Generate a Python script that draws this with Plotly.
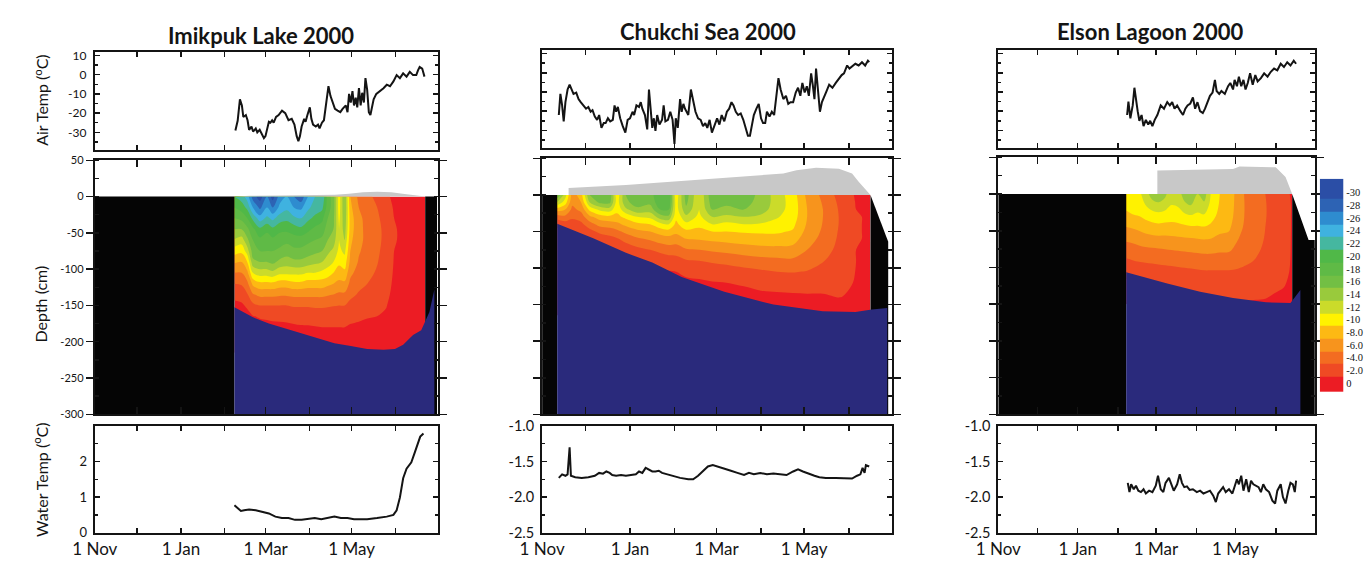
import numpy as np
import plotly.graph_objects as go

W, H = 1364, 561
FONT = "Lato"
SERIF = "Liberation Serif"
INK = "#141414"

# ============================ DATA ============================
# x values are days since 1 Nov 1999
MONTH_DAYS = [0, 30, 61, 92, 121, 152, 182, 213, 243]
LABEL_DAYS = [0, 61, 121, 182]
LABEL_TEXT = ["1 Nov", "1 Jan", "1 Mar", "1 May"]
SITE_TITLES = ["Imikpuk Lake 2000", "Chukchi Sea 2000", "Elson Lagoon 2000"]

AIR_TICKS = [10, 0, -10, -20, -30]
AIR_TICK_LABELS = ["10", "0", "-10", "-20", "-30"]
DEPTH_TICKS = [50, 0, -50, -100, -150, -200, -250, -300]
DEPTH_TICK_LABELS = ["50", "0", "-50", "-100", "-150", "-200", "-250", "-300"]
LAKE_WATER_TICKS = [0, 1, 2]
LAKE_WATER_TICK_LABELS = ["0", "1", "2"]
SEA_WATER_TICKS = [-1.0, -1.5, -2.0, -2.5]
SEA_WATER_TICK_LABELS = ["-1.0", "-1.5", "-2.0", "-2.5"]
DEPTH_FLOOR = -300

# ice temperature classes (degC): class centres, labels, colours
TEMP_CLASS_CENTRES = [0, -2, -4, -6, -8, -10, -12, -14, -16, -18, -20, -22, -24, -26, -28, -30]
TEMP_CLASS_LABELS = ["0", "-2.0", "-4.0", "-6.0", "-8.0", "-10", "-12", "-14", "-16",
                     "-18", "-20", "-22", "-24", "-26", "-28", "-30"]
TEMP_LEVELS = [-1, -3, -5, -7, -9, -11, -13, -15, -17, -19, -21, -23, -25, -27, -29]
TEMP_CLASS_COLORS = ["#ec1c24", "#ef4a24", "#f36c21", "#f7941d", "#fdb913", "#fff200",
                     "#cbdb2a", "#99ca3c", "#72bf44", "#5fba46", "#50b848", "#45b7a0",
                     "#3fb2e0", "#2e8ccf", "#2d63b4", "#2b4ea6"]
CBAR_WARM_END = 1.4
CBAR_COLD_END = -32.2

# ---------------- air temperature ----------------
IMIKPUK_AIR_DAY = [99.6, 101.2, 102.8, 104.2, 105.2, 107, 108.2, 109.3, 111, 112.1,
                   114, 115.1, 116.8, 118.2, 119.8, 120.9, 122.1, 123.3, 124.4, 125.6,
                   126.7, 128.4, 130.2, 132.6, 134.9, 137.2, 139.5, 141.4, 143, 144.2,
                   145.3, 146.5, 148.3, 149.3, 150.6, 152.3, 153.4, 154.6, 156.5, 158.1,
                   159.2, 160.9, 162.3, 163.9, 165.5, 166.9, 168.5, 170.1, 172, 173.9,
                   175.5, 177.8, 179, 180.1, 181.3, 182.5, 183.6, 184.8, 185.9, 187.1,
                   188.3, 189.4, 190.6, 191.7, 192.9, 194.1, 195.2, 196.4, 197.5, 199.4,
                   202.2, 204.5, 206.8, 209.1, 211.5, 213.8, 216.1, 218.4, 220.8, 223.1,
                   225.4, 227.7, 228.9, 230.1, 231.9, 233.5]
IMIKPUK_AIR_T = [-29, -24, -12.8, -16, -22, -21, -23.7, -28.7, -27, -29.6,
                 -28, -30, -28.7, -31, -33, -32, -28, -24.5, -25, -23.7,
                 -25, -22, -21, -18.7, -20, -23.7, -23, -26, -32, -34.6,
                 -32, -27, -23, -24.5, -21, -17, -23, -26, -27, -26,
                 -28, -25, -23.7, -16, -6, -11, -14.5, -17.8, -18.7, -19.5,
                 -17.8, -16, -19.5, -10, -14.5, -8.6, -16, -12, -17, -7,
                 -16, -9.4, -14.5, -1.8, -7.7, -19.5, -21, -16, -12.8, -10,
                 -8.6, -7, -5.2, -6, -3.5, -0.2, -1.8, 0.7, -1, 1.5,
                 -0.2, -0.2, 2.3, 4, 3.2, -1]

CHUKCHI_AIR_DAY = [11.6, 12.7, 13.9, 15, 16.2, 17.7, 19.1, 20.7, 21.8, 23.7,
                   25.3, 26.8, 28.7, 30.5, 32.1, 33.7, 35, 36.6, 38.2, 39.6,
                   41.2, 42.8, 44.1, 45.7, 47.3, 49.1, 50.3, 51.4, 52.6, 54.2,
                   56, 57.8, 59.4, 61, 62.8, 63.9, 65.5, 67.3, 68.5, 69.6,
                   71.4, 73, 74.2, 75.3, 76.5, 77.6, 78.7, 79.9, 81.5, 83.3,
                   84.4, 85.6, 87.4, 89, 90.6, 91.9, 92.8, 94.2, 95.8, 96.9,
                   98.1, 99.2, 100.3, 101.5, 103.3, 104.9, 106.5, 108.3, 110.1, 111.7,
                   113.3, 114.7, 116.3, 117.9, 119.7, 121.5, 123.1, 124.7, 126.5, 128.3,
                   129.9, 131.5, 132.9, 134.5, 136.1, 137.9, 139.7, 141.3, 142.9, 144.3,
                   145.8, 147, 148.8, 150.4, 152, 153.4, 154.9, 156.1, 157.9, 159.5,
                   161.1, 162.5, 164.1, 165.6, 167.5, 169.3, 170.9, 172.5, 174.3, 176.1,
                   177.7, 179.3, 180.7, 182.3, 183.8, 185.2, 186.8, 187.9, 189.1, 190.2,
                   191.4, 192.9, 194.3, 195.9, 197.5, 199.3, 201.6, 203.9, 206.1, 208,
                   209.6, 211.8, 213.4, 215.2, 217.5, 219.8, 222.1, 224.3, 226.2, 227.1]
CHUKCHI_AIR_T = [-22, -11, -17, -25.3, -15.3, -8.7, -6.2, -8.7, -11, -10.3,
                 -13.7, -15.3, -17, -18.7, -17.8, -20.3, -19.5, -22.8, -24.5, -22,
                 -28.7, -26.2, -26.2, -23.7, -25.3, -24.5, -17, -20.3, -17.8, -23.7,
                 -27.8, -31.2, -24.5, -23.7, -20.3, -22, -17, -17.8, -15.3, -18.7,
                 -22, -29.5, -8.7, -18.7, -28.7, -23.7, -30.3, -22, -27, -24.5,
                 -17, -25.3, -24.5, -20.3, -24.5, -37, -23.7, -28.7, -13.7, -20.3,
                 -16.2, -18.7, -20.3, -22, -8.7, -15.3, -20.3, -23.7, -24.5, -27.8,
                 -26.2, -28.7, -24.5, -31.2, -27, -23.7, -27, -22, -25.3, -20.3,
                 -18.7, -15.3, -17, -20.3, -22, -21.2, -24.5, -28.7, -32.8, -32.8,
                 -27, -22, -18.7, -16.2, -23.7, -26.2, -26.2, -20.3, -22.8, -20.3,
                 -22, -11.2, -2.8, -8.7, -13.7, -12, -16.2, -15.3, -15.3, -10.3,
                 -7.8, -12, -5.3, -10.3, -7, -12, -0.3, -6.2, -13.7, 2.2,
                 -7, -20.3, -15.3, -12, -9.5, -6.2, -7.8, -5.3, -2.8, -1.2,
                 -0.3, 3.8, 2.2, 3.3, 4.7, 3.8, 5.5, 3.8, 6.3, 5.5]

ELSON_AIR_DAY = [98.9, 99.9, 101.4, 103.2, 104.5, 105.7, 107, 108.3, 110, 111.5,
                 113.3, 115.1, 116.6, 118.3, 120.1, 122.1, 124.7, 127.2, 129.7, 131.7,
                 133.5, 135.3, 137.3, 139.8, 141.8, 143.6, 145.3, 147.4, 149.4, 151.1,
                 152.9, 154.9, 157, 158.7, 160.5, 162.5, 164.5, 166.3, 167.6, 169.6,
                 171.3, 173.9, 176.4, 178.1, 180.2, 181.4, 183.2, 184.7, 186.5, 188.2,
                 189.8, 191.5, 193.3, 195.3, 197.3, 199.1, 201.6, 204.1, 206.7, 209.2,
                 211.7, 214.2, 216.8, 219.3, 221.8, 224.3, 226.8, 228.6]
ELSON_AIR_T = [-22, -15, -23.7, -17, -7.8, -15.3, -20, -25, -22, -27.8,
               -24.5, -27, -25, -27.8, -24.5, -22, -17, -18.7, -15.3, -17,
               -15.3, -18.7, -17, -20, -22, -18.7, -17, -16, -12.8, -18.7,
               -15.3, -20, -21, -18.7, -15.3, -12, -10.3, -3.7, -9.5, -11,
               -9.5, -11, -7, -5.3, -8.7, -3.7, -7, -2, -7, -3.7,
               -8.7, -5.3, -0.3, -6.2, -1.2, -4.5, -2.8, -0.3, -2, 0.5,
               2.2, 1.3, 4.7, 3, 5.5, 3.8, 6.3, 4.7]

# ---------------- water temperature ----------------
IMIKPUK_WATER_DAY = [98.9, 101.2, 103.5, 105.8, 109.3, 114, 118.6, 123.3, 127.9, 132.5,
                     137.2, 141.8, 146.5, 151.1, 155.8, 160.4, 165, 169.7, 174.3, 179,
                     183.6, 188.3, 192.9, 199.9, 206.8, 211.5, 213.8, 216.1, 218.4, 220.8,
                     224.2, 226.6, 228.9, 230.5, 232.8]
IMIKPUK_WATER_T = [0.77, 0.68, 0.61, 0.63, 0.65, 0.63, 0.59, 0.54, 0.45, 0.41,
                   0.41, 0.36, 0.36, 0.38, 0.41, 0.38, 0.41, 0.45, 0.41, 0.41,
                   0.38, 0.38, 0.38, 0.41, 0.45, 0.5, 0.63, 0.99, 1.53, 1.8,
                   1.98, 2.25, 2.52, 2.7, 2.79]

CHUKCHI_WATER_DAY = [11.6, 13.9, 16.2, 17.7, 19.1, 20, 23, 27.5, 32.1, 36.6,
                     39.6, 42.3, 44.6, 46.9, 48.7, 51.4, 54.8, 58.2, 61.7, 65.1,
                     67.3, 69.6, 71.9, 74.2, 76.5, 78.7, 81, 83.3, 86.7, 91.2,
                     95.8, 101.5, 104.9, 108.3, 111.7, 115.1, 118.5, 122, 126.5, 131.1,
                     135.6, 140.2, 143.6, 147, 151.5, 156.1, 160.6, 165.2, 169.7, 174.3,
                     177.7, 181.1, 184.5, 189.1, 192.5, 197, 203.9, 210.7, 215.2, 218.7,
                     221, 222.5, 223.9, 224.8, 227.1]
CHUKCHI_WATER_T = [-1.73, -1.68, -1.70, -1.68, -1.30, -1.70, -1.72, -1.73, -1.72, -1.70,
                   -1.66, -1.67, -1.64, -1.66, -1.69, -1.70, -1.69, -1.70, -1.69, -1.68,
                   -1.64, -1.66, -1.59, -1.61, -1.64, -1.64, -1.63, -1.66, -1.68, -1.70,
                   -1.73, -1.75, -1.75, -1.70, -1.64, -1.57, -1.55, -1.57, -1.60, -1.63,
                   -1.66, -1.69, -1.66, -1.68, -1.66, -1.68, -1.67, -1.68, -1.69, -1.64,
                   -1.61, -1.64, -1.67, -1.70, -1.72, -1.73, -1.73, -1.74, -1.74, -1.70,
                   -1.68, -1.59, -1.66, -1.55, -1.57]

ELSON_WATER_DAY = [99.4, 100.7, 102, 104, 105.7, 107.5, 109.5, 111.5, 113.3, 115.8,
                   118.3, 120.9, 122.6, 124.7, 126.7, 128.4, 131, 132.7, 134.7, 137.3,
                   139.3, 141, 142.8, 144.8, 146.9, 149.4, 152.4, 154.9, 157.5, 160,
                   162.5, 165, 167, 168.8, 170.6, 172.6, 174.6, 177.1, 179.7, 181.4,
                   183.2, 184.7, 186.5, 188.2, 190.3, 192.3, 194, 195.8, 197.8, 199.8,
                   201.6, 203.4, 205.4, 207.9, 210.4, 212.5, 214.2, 216.8, 218.5, 220.5,
                   222.6, 224.3, 226.1, 227.6, 228.6]
ELSON_WATER_T = [-1.80, -1.93, -1.82, -1.89, -1.84, -1.91, -1.93, -1.89, -1.95, -1.91,
                 -1.93, -1.84, -1.70, -1.89, -1.93, -1.80, -1.73, -1.82, -1.91, -1.82,
                 -1.68, -1.80, -1.86, -1.85, -1.90, -1.89, -1.93, -1.91, -1.95, -1.93,
                 -1.91, -1.98, -2.07, -1.95, -1.91, -1.86, -1.93, -1.89, -1.95, -1.86,
                 -1.75, -1.82, -1.70, -1.91, -1.75, -1.93, -1.77, -1.82, -1.84, -1.86,
                 -1.93, -1.82, -1.89, -1.93, -2.05, -2.09, -1.91, -1.82, -2.00, -2.09,
                 -1.91, -1.80, -1.82, -1.93, -1.77]

# ---------------- ice temperature profiles (one list per day, top to bottom) ----------------
IMIKPUK_ICE_DEPTH = [0, -15, -30, -45, -60, -75, -90, -105, -120, -135, -150, -165, -180, -195, -215]
IMIKPUK_ICE_DAY = [98.9, 104, 108, 112, 117, 122, 126, 131, 136, 141, 146, 151, 156,
                   161, 165, 169, 173, 177, 181, 187, 193, 200, 206, 212, 222, 234]
IMIKPUK_ICE_T = [
    [-21, -19, -17, -15, -12.8, -10, -7.3, -5, -3, -1.6, -0.5, -0.2, 0, 0, 0],
    [-22, -20, -17.5, -15, -12, -9.5, -7, -5, -3.2, -1.8, -0.7, -0.2, 0, 0, 0],
    [-24, -21.5, -19, -16.5, -14.5, -12, -9, -6.5, -4.5, -2.8, -1.3, -0.4, 0, 0, 0],
    [-28, -25, -21.5, -18.5, -17, -16, -14.5, -11, -7.5, -4.8, -2.5, -0.9, -0.2, 0, 0],
    [-30, -27.5, -24, -20.5, -18.5, -17, -15, -12, -8.5, -5.5, -3, -1.2, -0.3, 0, 0],
    [-27, -25, -22.5, -19.5, -18, -17, -15, -12, -8.5, -5.5, -3, -1.3, -0.4, 0, 0],
    [-30, -27, -23.5, -20.5, -18.5, -17, -15.5, -12.5, -8.5, -5.5, -3, -1.4, -0.5, 0, 0],
    [-26, -24.5, -22, -19.5, -18, -16.5, -14.5, -11.5, -8, -5.3, -3, -1.5, -0.5, -0.1, 0],
    [-25, -23.5, -21.5, -19.5, -17.5, -16, -14, -11.5, -8, -5.3, -3, -1.5, -0.6, -0.1, 0],
    [-27, -25, -22.5, -20, -18, -16.5, -14.5, -11.5, -8.5, -5.5, -3.2, -1.7, -0.7, -0.1, 0],
    [-28.5, -25.5, -23, -20.5, -18, -16.5, -14.5, -11.5, -8.5, -5.5, -3.2, -1.8, -0.8, -0.2, 0],
    [-25, -23.5, -21.5, -19.5, -17.5, -16, -14, -11, -8, -5.5, -3.2, -1.9, -0.8, -0.2, 0],
    [-23, -22, -20.5, -18.5, -17, -15.5, -13.5, -11, -8, -5.5, -3.3, -2, -0.9, -0.3, 0],
    [-23, -21.5, -19.5, -18, -16.5, -15, -13, -10.5, -8, -5.5, -3.3, -2, -1, -0.3, 0],
    [-18, -18, -17, -16, -15, -13.5, -12, -10, -7.5, -5.2, -3.2, -2, -1, -0.3, 0],
    [-16, -16, -15.5, -15, -14, -12.5, -11, -9, -7, -5, -3.1, -1.9, -1, -0.3, 0],
    [-10, -10, -10.5, -11, -11, -10.5, -9.5, -8, -6.5, -4.6, -3, -1.8, -1, -0.3, 0],
    [-15, -15, -14.5, -14, -13, -11.5, -10, -8.5, -6.5, -4.6, -3, -1.8, -1, -0.3, 0],
    [-7, -7.5, -8, -8, -7.5, -7, -6.5, -5.5, -4.5, -3.5, -2.4, -1.5, -0.8, -0.3, 0],
    [-4.5, -5, -5.5, -5.5, -5.5, -5.2, -4.8, -4.2, -3.5, -2.8, -2, -1.3, -0.7, -0.2, 0],
    [-3.5, -4, -4.3, -4.5, -4.5, -4.3, -4, -3.5, -3, -2.4, -1.8, -1.1, -0.6, -0.2, 0],
    [-2.5, -3, -3.3, -3.5, -3.5, -3.3, -3.1, -2.8, -2.4, -2, -1.5, -1, -0.5, -0.2, 0],
    [-1.5, -2, -2.3, -2.5, -2.5, -2.4, -2.2, -2, -1.7, -1.4, -1.1, -0.8, -0.4, -0.1, 0],
    [-0.5, -0.8, -1, -1.1, -1.1, -1, -0.9, -0.8, -0.7, -0.6, -0.5, -0.4, -0.2, -0.1, 0],
    [-0.3, -0.5, -0.6, -0.6, -0.6, -0.6, -0.5, -0.5, -0.4, -0.4, -0.3, -0.2, -0.1, 0, 0],
    [-0.1, -0.2, -0.3, -0.3, -0.3, -0.3, -0.3, -0.2, -0.2, -0.2, -0.1, -0.1, 0, 0, 0],
]

CHUKCHI_ICE_DEPTH = [0, -10, -20, -30, -40, -50, -60, -75, -90, -105, -120, -135, -150, -165]
CHUKCHI_ICE_DAY = [10.5, 16, 21, 27, 33, 40, 47, 52, 58, 66, 75, 82, 88, 93, 100, 109,
                   118, 128, 140, 152, 163, 174, 184, 195, 207, 218, 228]
CHUKCHI_ICE_T = [
    [-17, -13, -8, -4, -1.2, -0.8, -0.8, -0.8, -0.8, -0.8, -0.8, -0.8, -0.8, -0.8],
    [-12, -10, -7, -4.5, -2, -0.8, -0.8, -0.8, -0.8, -0.8, -0.8, -0.8, -0.8, -0.8],
    [-6, -5.5, -4.5, -3.4, -2, -0.9, -0.8, -0.8, -0.8, -0.8, -0.8, -0.8, -0.8, -0.8],
    [-8, -7, -5.5, -4, -2.5, -1.2, -0.8, -0.8, -0.8, -0.8, -0.8, -0.8, -0.8, -0.8],
    [-15, -13, -9.5, -6.5, -4.2, -2.3, -1, -0.8, -0.8, -0.8, -0.8, -0.8, -0.8, -0.8],
    [-17, -15.5, -11.5, -8, -5.7, -3.5, -1.6, -0.8, -0.8, -0.8, -0.8, -0.8, -0.8, -0.8],
    [-16.5, -15.5, -12, -8.5, -6, -4, -2.3, -0.9, -0.8, -0.8, -0.8, -0.8, -0.8, -0.8],
    [-9.5, -10, -9.5, -8.5, -6.5, -4.5, -2.8, -1, -0.8, -0.8, -0.8, -0.8, -0.8, -0.8],
    [-15, -14.5, -12.5, -9.5, -7.5, -5.5, -3.8, -1.6, -0.8, -0.8, -0.8, -0.8, -0.8, -0.8],
    [-16.5, -16, -14.5, -11, -8.5, -6.5, -4.7, -2.4, -1, -0.8, -0.8, -0.8, -0.8, -0.8],
    [-16, -15.5, -14, -11.5, -9, -7, -5.3, -3, -1.2, -0.8, -0.8, -0.8, -0.8, -0.8],
    [-19, -18.5, -17, -14, -10.5, -7.8, -6, -3.6, -1.5, -0.8, -0.8, -0.8, -0.8, -0.8],
    [-19, -18.5, -17, -14.5, -11, -8.2, -6.3, -4, -2, -0.9, -0.8, -0.8, -0.8, -0.8],
    [-9.5, -10, -10, -9.5, -8.5, -7.5, -6, -4, -2.2, -1, -0.8, -0.8, -0.8, -0.8],
    [-16, -15.5, -14.5, -12.5, -10.5, -8.5, -7, -4.8, -2.8, -1.2, -0.8, -0.8, -0.8, -0.8],
    [-11, -11, -11, -10.5, -9.5, -8.5, -7.2, -5, -3, -1.4, -0.8, -0.8, -0.8, -0.8],
    [-16.5, -16, -15, -13, -11, -9, -7.5, -5.3, -3.3, -1.8, -0.9, -0.8, -0.8, -0.8],
    [-15.5, -15.5, -14.5, -12.5, -10.5, -9, -7.7, -5.6, -3.6, -2, -1, -0.8, -0.8, -0.8],
    [-16, -15.5, -15, -13, -11, -9.2, -8, -6, -4, -2.4, -1.1, -0.8, -0.8, -0.8],
    [-14.5, -14.5, -14, -12.5, -10.8, -9.3, -8.2, -6.3, -4.3, -2.7, -1.4, -0.85, -0.8, -0.8],
    [-12, -12, -11.8, -11.2, -10.3, -9.3, -8.2, -6.4, -4.5, -3, -1.6, -0.9, -0.8, -0.8],
    [-10, -10.2, -10.2, -10, -9.5, -8.8, -7.9, -6.3, -4.6, -3.1, -1.8, -0.95, -0.8, -0.8],
    [-6.5, -6.8, -7, -7, -6.8, -6.4, -5.9, -5, -4, -2.9, -1.8, -1, -0.8, -0.8],
    [-4.5, -4.8, -5, -5, -4.9, -4.7, -4.4, -3.8, -3.1, -2.4, -1.6, -1, -0.85, -0.8],
    [-2.2, -2.5, -2.7, -2.8, -2.8, -2.7, -2.6, -2.4, -2.1, -1.8, -1.4, -1.05, -0.9, -0.8],
    [-0.8, -0.9, -1.0, -1.1, -1.1, -1.1, -1.1, -1.0, -1.0, -0.95, -0.9, -0.9, -0.85, -0.8],
    [-0.6, -0.7, -0.8, -0.85, -0.85, -0.85, -0.85, -0.85, -0.85, -0.85, -0.85, -0.85, -0.8, -0.8],
]

ELSON_ICE_DEPTH = [0, -15, -30, -45, -60, -75, -90, -105, -120, -135, -150]
ELSON_ICE_DAY = [98.2, 103, 108, 113, 118, 123, 128, 133, 138, 143, 148, 153, 158,
                 163, 170, 177, 184, 191, 198, 205, 212, 219, 225.6]
ELSON_ICE_T = [
    [-10, -9.5, -8.5, -7, -5.5, -4, -2.8, -1.5, -0.8, -0.8, -0.8],
    [-11, -10, -8.8, -7.2, -5.7, -4.2, -3, -1.7, -0.9, -0.8, -0.8],
    [-10.5, -10, -9, -7.5, -6, -4.5, -3.2, -1.9, -1, -0.8, -0.8],
    [-12, -11, -9.5, -8, -6.3, -4.7, -3.3, -2, -1.0, -0.8, -0.8],
    [-14, -12, -10, -8.2, -6.5, -4.8, -3.4, -2.1, -1.1, -0.8, -0.8],
    [-14.5, -12.5, -10.2, -8.4, -6.6, -4.9, -3.5, -2.2, -1.2, -0.8, -0.8],
    [-13.5, -12, -10, -8.3, -6.6, -5, -3.6, -2.3, -1.3, -0.85, -0.8],
    [-11.5, -11, -9.8, -8.3, -6.7, -5.1, -3.7, -2.4, -1.4, -0.9, -0.8],
    [-12, -11.2, -10, -8.4, -6.8, -5.2, -3.8, -2.5, -1.5, -0.95, -0.8],
    [-14, -12.5, -10.5, -8.6, -6.9, -5.3, -3.9, -2.6, -1.6, -1.0, -0.8],
    [-14.5, -13, -10.8, -8.8, -7, -5.4, -4, -2.7, -1.7, -1.05, -0.8],
    [-13, -12, -10.5, -8.8, -7.1, -5.5, -4.1, -2.8, -1.8, -1.1, -0.8],
    [-14, -12.5, -10.7, -8.9, -7.2, -5.6, -4.2, -2.9, -1.9, -1.1, -0.85],
    [-11, -10.5, -9.8, -8.6, -7.1, -5.6, -4.2, -2.9, -1.9, -1.15, -0.85],
    [-9, -8.8, -8.4, -7.7, -6.6, -5.4, -4.1, -2.9, -1.9, -1.2, -0.9],
    [-8.5, -8.3, -8, -7.4, -6.4, -5.3, -4.1, -2.9, -1.9, -1.2, -0.9],
    [-6, -6, -5.9, -5.6, -5.1, -4.5, -3.7, -2.8, -1.9, -1.2, -0.9],
    [-4.5, -4.6, -4.6, -4.5, -4.2, -3.8, -3.3, -2.6, -1.8, -1.2, -0.9],
    [-3.8, -3.9, -3.9, -3.8, -3.6, -3.3, -2.9, -2.3, -1.7, -1.15, -0.9],
    [-3, -3.1, -3.1, -3, -2.9, -2.7, -2.4, -2, -1.5, -1.1, -0.9],
    [-2.2, -2.3, -2.3, -2.3, -2.2, -2.1, -1.9, -1.6, -1.3, -1.0, -0.9],
    [-1.5, -1.6, -1.6, -1.6, -1.5, -1.45, -1.35, -1.2, -1.05, -0.95, -0.85],
    [-0.8, -0.9, -0.9, -0.9, -0.9, -0.9, -0.9, -0.9, -0.9, -0.85, -0.8],
]

# ---------------- ice base (top of water column), snow, no-data zones ----------------
IMIKPUK_BASE_DAY = [98.9, 111.7, 123.3, 134.9, 146.5, 158.1, 169.7, 181.3, 192.9, 204.5,
                    212.6, 218.4, 225.4, 231.2, 237, 240.5]
IMIKPUK_BASE_DEPTH = [-152.5, -166, -175, -182, -188.4, -195, -202, -206, -210, -211,
                      -210, -204, -190.7, -184, -159, -128]
IMIKPUK_SNOW_DAY = [98.9, 110, 130, 150, 170, 180, 190, 200, 210, 218, 226, 234]
IMIKPUK_SNOW_CM = [0, 1, 1.5, 2, 2.5, 4, 6, 6.5, 6, 4, 1.5, 0]
IMIKPUK_NODATA_L_DAY = [0, 98.9]
IMIKPUK_NODATA_L_TOP = [0, 0]
IMIKPUK_NODATA_R_DAY = [234, 242.4]
IMIKPUK_NODATA_R_TOP = [0, 0]

CHUKCHI_BASE_DAY = [10.5, 35.5, 58.2, 76.5, 96.9, 126.5, 160.6, 194.8, 217.5, 228.9, 239.6]
CHUKCHI_BASE_DEPTH = [-39.4, -59.3, -79.2, -92.5, -112.4, -132.4, -150, -159, -160.2, -156.7, -154.5]
CHUKCHI_SNOW_DAY = [18.4, 18.4, 58.2, 103.8, 137.9, 167.5, 176.6, 190.2, 206.1, 215.2, 219.8, 226.6, 228]
CHUKCHI_SNOW_CM = [0, 9.3, 13.7, 20.4, 24.8, 29.2, 33.6, 37.2, 35.9, 29.2, 18.1, 2.7, 0]
CHUKCHI_NODATA_L_DAY = [0, 10.5]
CHUKCHI_NODATA_L_TOP = [0, 0]
CHUKCHI_NODATA_R_DAY = [228, 240.3]
CHUKCHI_NODATA_R_TOP = [0, -64]

ELSON_BASE_DAY = [98.2, 129.7, 154.9, 180.2, 205.4, 224.3, 231.9]
ELSON_BASE_DEPTH = [-106.5, -121.9, -132.9, -141.7, -147.4, -148.3, -130.7]
ELSON_SNOW_DAY = [122.1, 122.1, 180.2, 185.2, 213, 220.5, 225.6]
ELSON_SNOW_CM = [0, 32.1, 34.3, 37.4, 36.5, 23.3, 0]
ELSON_NODATA_L_DAY = [0, 98.2]
ELSON_NODATA_L_TOP = [0, 0]
ELSON_NODATA_R_DAY = [225.6, 238.2, 243]
ELSON_NODATA_R_TOP = [0, -62.5, -62.5]

# ============================ STYLE / LAYOUT ============================
BLACK = "#050505"
WATER_BLUE = "#2a2a7c"
SNOW_GRAY = "#c8c8c8"

PANEL_X = [(73, 422), (528, 884), (992, 1314)]
ROW_Y = [[(44, 145), (156, 418), (430, 540)],
         [(42, 143), (154, 418), (430, 540)],
         [(42, 143), (153, 418), (430, 540)]]
TITLE_POS = [(242, 27), (697, 23), (1146, 23)]

SITES = [
    dict(air=(IMIKPUK_AIR_DAY, IMIKPUK_AIR_T), water=(IMIKPUK_WATER_DAY, IMIKPUK_WATER_T),
         ice=(IMIKPUK_ICE_DAY, IMIKPUK_ICE_DEPTH, IMIKPUK_ICE_T),
         base=(IMIKPUK_BASE_DAY, IMIKPUK_BASE_DEPTH), snow=(IMIKPUK_SNOW_DAY, IMIKPUK_SNOW_CM),
         nodata=[(IMIKPUK_NODATA_L_DAY, IMIKPUK_NODATA_L_TOP), (IMIKPUK_NODATA_R_DAY, IMIKPUK_NODATA_R_TOP)]),
    dict(air=(CHUKCHI_AIR_DAY, CHUKCHI_AIR_T), water=(CHUKCHI_WATER_DAY, CHUKCHI_WATER_T),
         ice=(CHUKCHI_ICE_DAY, CHUKCHI_ICE_DEPTH, CHUKCHI_ICE_T),
         base=(CHUKCHI_BASE_DAY, CHUKCHI_BASE_DEPTH), snow=(CHUKCHI_SNOW_DAY, CHUKCHI_SNOW_CM),
         nodata=[(CHUKCHI_NODATA_L_DAY, CHUKCHI_NODATA_L_TOP), (CHUKCHI_NODATA_R_DAY, CHUKCHI_NODATA_R_TOP)]),
    dict(air=(ELSON_AIR_DAY, ELSON_AIR_T), water=(ELSON_WATER_DAY, ELSON_WATER_T),
         ice=(ELSON_ICE_DAY, ELSON_ICE_DEPTH, ELSON_ICE_T),
         base=(ELSON_BASE_DAY, ELSON_BASE_DEPTH), snow=(ELSON_SNOW_DAY, ELSON_SNOW_CM),
         nodata=[(ELSON_NODATA_L_DAY, ELSON_NODATA_L_TOP), (ELSON_NODATA_R_DAY, ELSON_NODATA_R_TOP)]),
]


def xd(a, b):
    return [a / W, b / W]


def yd(a, b):
    return [1 - b / H, 1 - a / H]


def axn(i, a):
    return a if i == 1 else f"{a}{i}"


def lkey(i, a):
    return f"{a}axis" if i == 1 else f"{a}axis{i}"


def axis_base(**kw):
    d = dict(showline=True, linecolor=INK, linewidth=2, mirror="ticks", showgrid=False,
             zeroline=False, ticks="inside", tickcolor=INK, tickwidth=1.5, ticklen=5,
             fixedrange=True)
    d.update(kw)
    return d


n_cls = len(TEMP_CLASS_COLORS)
CSCALE = [[k / (n_cls - 1), c] for k, c in enumerate(TEMP_CLASS_COLORS)]
UNLABELLED_MONTHS = [d for d in MONTH_DAYS if d not in LABEL_DAYS]

fig = go.Figure()
layout = dict(width=W, height=H, autosize=False, margin=dict(l=0, r=0, t=0, b=0),
              paper_bgcolor="white", plot_bgcolor="white", showlegend=False,
              font=dict(family=FONT, color=INK), annotations=[])


def area(days, top, base, color, xa, ya):
    xs = list(days) + list(days)[::-1]
    ys = list(top) + [base] * len(days)
    return go.Scatter(x=xs, y=ys, fill="toself", fillcolor=color, mode="lines",
                      line=dict(width=0, color=color), hoverinfo="skip", xaxis=xa, yaxis=ya)


for p, site in enumerate(SITES):
    for r in range(3):
        idx = p * 3 + r + 1
        xa, ya = axn(idx, "x"), axn(idx, "y")
        tl = 7 if r == 1 else 5
        layout[lkey(idx, "x")] = axis_base(
            domain=xd(*PANEL_X[p]), range=[MONTH_DAYS[0], MONTH_DAYS[-1]], anchor=ya,
            tickmode="array", tickvals=LABEL_DAYS, ticktext=LABEL_TEXT,
            showticklabels=(r == 2), ticklen=tl,
            minor=dict(tickmode="array", tickvals=UNLABELLED_MONTHS, ticks="inside",
                       ticklen=tl, tickcolor=INK, tickwidth=1.5),
            tickfont=dict(family=FONT, size=17, color=INK))
        if r == 0:
            layout[lkey(idx, "y")] = axis_base(
                domain=yd(*ROW_Y[p][r]), range=[-39, 12], anchor=xa,
                tickmode="array", tickvals=AIR_TICKS, ticktext=AIR_TICK_LABELS,
                showticklabels=(p == 0), ticklabelstandoff=4,
                minor=dict(ticks="inside", ticklen=3, dtick=5, tick0=0, tickcolor=INK),
                tickfont=dict(family=FONT, size=12, color=INK))
            d, t = site["air"]
            fig.add_trace(go.Scatter(x=d, y=t, mode="lines", line=dict(color=INK, width=2),
                                     hoverinfo="skip", xaxis=xa, yaxis=ya))
        elif r == 1:
            layout[lkey(idx, "y")] = axis_base(
                domain=yd(*ROW_Y[p][r]), range=[DEPTH_FLOOR, 50], anchor=xa,
                tickmode="array", tickvals=DEPTH_TICKS, ticktext=DEPTH_TICK_LABELS,
                ticks="outside", ticklen=7, showticklabels=(p == 0),
                minor=dict(ticks="inside", ticklen=4, dtick=25, tick0=0, tickcolor=INK),
                tickfont=dict(family=FONT, size=11, color=INK))
            days, depths, prof = site["ice"]
            z = (-np.array(prof, dtype=float)).T
            fig.add_trace(go.Contour(
                x=days, y=depths, z=z, xaxis=xa, yaxis=ya, autocontour=False,
                contours=dict(start=-TEMP_LEVELS[0], end=-TEMP_LEVELS[-1],
                              size=TEMP_LEVELS[0] - TEMP_LEVELS[1], coloring="fill", showlines=False),
                colorscale=CSCALE, showscale=False, line=dict(width=0, smoothing=1),
                hoverinfo="skip"))
            for nd_day, nd_top in site["nodata"]:
                fig.add_trace(area(nd_day, nd_top, DEPTH_FLOOR, BLACK, xa, ya))
            bd, bv = site["base"]
            fig.add_trace(area(bd, bv, DEPTH_FLOOR, WATER_BLUE, xa, ya))
            sd, sv = site["snow"]
            fig.add_trace(area(sd, sv, 0, SNOW_GRAY, xa, ya))
        else:
            if p == 0:
                yk = dict(range=[0, 3], tickvals=LAKE_WATER_TICKS, ticktext=LAKE_WATER_TICK_LABELS,
                          minor=dict(ticks="inside", ticklen=3, dtick=0.5, tick0=0, tickcolor=INK),
                          tickfont=dict(family=FONT, size=13, color=INK))
            else:
                yk = dict(range=[-2.5, -1.0], tickvals=SEA_WATER_TICKS, ticktext=SEA_WATER_TICK_LABELS,
                          minor=dict(ticks="inside", ticklen=3, dtick=0.25, tick0=0, tickcolor=INK),
                          tickfont=dict(family=FONT, size=14.5, color=INK))
            layout[lkey(idx, "y")] = axis_base(domain=yd(*ROW_Y[p][r]), anchor=xa,
                                               tickmode="array", ticklabelstandoff=3, **yk)
            d, t = site["water"]
            fig.add_trace(go.Scatter(x=d, y=t, mode="lines", line=dict(color=INK, width=2),
                                     hoverinfo="skip", xaxis=xa, yaxis=ya))

    tx, ty = TITLE_POS[p]
    layout["annotations"].append(dict(
        text=f"<b>{SITE_TITLES[p]}</b>", x=tx / W, y=1 - ty / H, xref="paper", yref="paper",
        xanchor="center", yanchor="middle", showarrow=False,
        font=dict(family=FONT, size=22, color=INK)))

# axis titles (left column)
for txt, yc in [("Air Temp (<sup>o</sup>C)", 94), ("Depth (cm)", 304), ("Water Temp (<sup>o</sup>C)", 485)]:
    layout["annotations"].append(dict(
        text=txt, x=18 / W, y=1 - yc / H, xref="paper", yref="paper", textangle=-90,
        xanchor="center", yanchor="middle", showarrow=False,
        font=dict(family=FONT, size=16, color=INK)))

# colour key drawn as a one-column heatmap of the temperature classes
CB = 10
cb_edges = [CBAR_COLD_END] + TEMP_LEVELS[::-1] + [CBAR_WARM_END]
cb_z = [[k] for k in reversed(range(n_cls))]
fig.add_trace(go.Heatmap(x=[0, 1], y=cb_edges, z=cb_z, colorscale=CSCALE, zmin=0, zmax=n_cls - 1,
                         showscale=False, hoverinfo="skip", xaxis=axn(CB, "x"), yaxis=axn(CB, "y")))
layout[lkey(CB, "x")] = dict(domain=xd(1319, 1343), range=[0, 1], visible=False,
                             anchor=axn(CB, "y"), fixedrange=True)
layout[lkey(CB, "y")] = dict(domain=yd(175, 395), range=[CBAR_WARM_END, CBAR_COLD_END],
                             anchor=axn(CB, "x"), side="right", showline=False, showgrid=False,
                             zeroline=False, ticks="", tickmode="array",
                             tickvals=TEMP_CLASS_CENTRES, ticktext=TEMP_CLASS_LABELS,
                             ticklabelstandoff=2, fixedrange=True,
                             tickfont=dict(family=SERIF, size=10.5, color=INK))

fig.update_layout(**layout)
fig.write_html("out.html", config={"displayModeBar": False, "staticPlot": True},
               post_script="document.body.style.margin='0';document.body.style.overflow='hidden';")
